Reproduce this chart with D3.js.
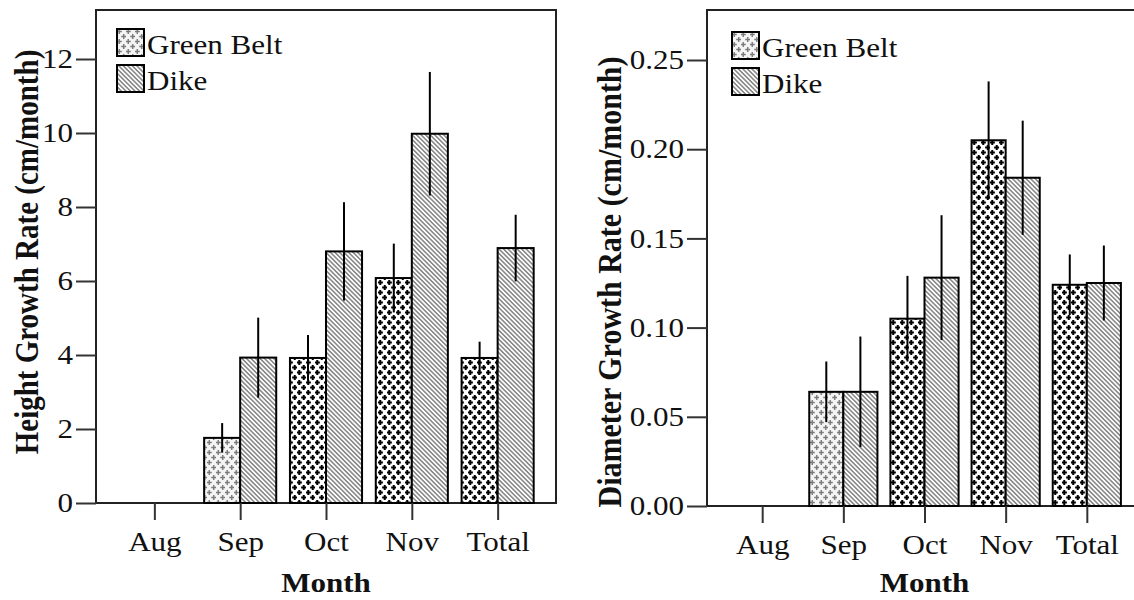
<!DOCTYPE html>
<html>
<head>
<meta charset="utf-8">
<script src="https://cdnjs.cloudflare.com/ajax/libs/d3/7.8.5/d3.min.js"></script>
<style>
  body { margin: 0; background: #fff; }
  text { font-family: "Liberation Serif", "DejaVu Serif", serif; fill: #111; }
</style>
</head>
<body>
<script>
// data
var months = ["Aug", "Sep", "Oct", "Nov", "Total"];
var seriesNames = ["Green Belt", "Dike"];

var heightGreen = [null, 1.76, 3.92, 6.08, 3.92];
var heightGreenErr = [null, 0.40, 0.62, 0.93, 0.44];
var heightDike = [null, 3.93, 6.80, 9.98, 6.89];
var heightDikeErr = [null, 1.08, 1.33, 1.67, 0.90];
var heightTicks = [0, 2, 4, 6, 8, 10, 12];

var diamGreen = [null, 0.064, 0.105, 0.205, 0.124];
var diamGreenErr = [null, 0.017, 0.024, 0.033, 0.017];
var diamDike = [null, 0.064, 0.128, 0.184, 0.125];
var diamDikeErr = [null, 0.031, 0.035, 0.032, 0.021];
var diamTicks = [0, 0.05, 0.10, 0.15, 0.20, 0.25];

var W = 1134, H = 600;
var SX = 1.15; // the picture's text is a bit wider than it is tall
var FS = "27px";

var svg = d3.select("body").append("svg")
    .attr("width", W)
    .attr("height", H);

// fill patterns
var defs = svg.append("defs");

function crossPattern(id, color, bg, sw, arm) {
    var p = defs.append("pattern")
        .attr("id", id)
        .attr("patternUnits", "userSpaceOnUse")
        .attr("width", 9).attr("height", 10);
    p.append("rect").attr("width", 9).attr("height", 10).attr("fill", bg);
    [[2.25, 2.5], [6.75, 7.5]].forEach(function (c) {
        p.append("path")
            .attr("d", "M" + (c[0] - arm) + "," + c[1] + "h" + (2 * arm) + "M" + c[0] + "," + (c[1] - arm) + "v" + (2 * arm))
            .attr("stroke", color)
            .attr("stroke-width", sw);
    });
}
crossPattern("crossDark", "#000", "#fff", 2, 2.6);
crossPattern("crossLight", "#7a7a7a", "#f4f4f4", 1.4, 2.5);

var hatch = defs.append("pattern")
    .attr("id", "hatch")
    .attr("patternUnits", "userSpaceOnUse")
    .attr("width", 3.2).attr("height", 8)
    .attr("patternTransform", "rotate(-45)");
hatch.append("rect").attr("width", 3.2).attr("height", 8).attr("fill", "#fff");
hatch.append("line")
    .attr("x1", 0.8).attr("x2", 0.8).attr("y1", 0).attr("y2", 8)
    .attr("stroke", "#444").attr("stroke-width", 1);

function drawPanel(cfg) {
    var g = svg.append("g");

    var x = d3.scalePoint()
        .domain(months)
        .range([cfg.left, cfg.right])
        .padding(0.68);
    var y = d3.scaleLinear()
        .domain([0, cfg.ymax])
        .range([cfg.bottom, cfg.top]);
    var barW = x.step() * 0.42;

    // frame
    g.append("rect")
        .attr("x", cfg.left).attr("y", cfg.top)
        .attr("width", cfg.right - cfg.left)
        .attr("height", cfg.bottom - cfg.top)
        .attr("fill", "none")
        .attr("stroke", "#222")
        .attr("stroke-width", 2);

    var rows = months.map(function (m, i) {
        return { m: m, i: i };
    });

    // green belt bars
    g.selectAll(".gb")
        .data(rows.filter(function (d) { return cfg.green[d.i] != null; }))
        .enter()
        .append("rect")
        .attr("x", function (d) { return x(d.m) - barW; })
        .attr("y", function (d) { return y(cfg.green[d.i]); })
        .attr("width", barW)
        .attr("height", function (d) { return y(0) - y(cfg.green[d.i]); })
        .attr("fill", function (d) { return d.m == "Sep" ? "url(#crossLight)" : "url(#crossDark)"; })
        .attr("stroke", "#000")
        .attr("stroke-width", 2);

    // dike bars
    g.selectAll(".dk")
        .data(rows.filter(function (d) { return cfg.dike[d.i] != null; }))
        .enter()
        .append("rect")
        .attr("x", function (d) { return x(d.m); })
        .attr("y", function (d) { return y(cfg.dike[d.i]); })
        .attr("width", barW)
        .attr("height", function (d) { return y(0) - y(cfg.dike[d.i]); })
        .attr("fill", "url(#hatch)")
        .attr("stroke", "#000")
        .attr("stroke-width", 2);

    // error bars
    var errs = [];
    rows.forEach(function (d) {
        if (cfg.green[d.i] != null) errs.push({ cx: x(d.m) - barW / 2, v: cfg.green[d.i], e: cfg.greenErr[d.i] });
        if (cfg.dike[d.i] != null) errs.push({ cx: x(d.m) + barW / 2, v: cfg.dike[d.i], e: cfg.dikeErr[d.i] });
    });
    g.selectAll(".err")
        .data(errs)
        .enter()
        .append("line")
        .attr("x1", function (d) { return d.cx; })
        .attr("x2", function (d) { return d.cx; })
        .attr("y1", function (d) { return y(d.v - d.e); })
        .attr("y2", function (d) { return y(d.v + d.e); })
        .attr("stroke", "#000")
        .attr("stroke-width", 2);

    // y axis
    var yAxis = d3.axisLeft(y)
        .tickValues(cfg.ticks)
        .tickSize(20)
        .tickPadding(3)
        .tickFormat(cfg.fmt);
    var ya = g.append("g")
        .attr("transform", "translate(" + cfg.left + ",0)")
        .call(yAxis);
    ya.select(".domain").remove();
    ya.selectAll("line").attr("stroke", "#333").attr("stroke-width", 2);
    ya.selectAll("text")
        .attr("x", -23 / SX)
        .attr("transform", "scale(" + SX + ",1)")
        .style("font-family", "Liberation Serif")
        .style("font-size", FS)
        .attr("fill", "#111");

    // x axis
    var xAxis = d3.axisBottom(x)
        .tickSize(17)
        .tickPadding(12);
    var xa = g.append("g")
        .attr("transform", "translate(0," + cfg.bottom + ")")
        .call(xAxis);
    xa.select(".domain").remove();
    xa.selectAll("line").attr("stroke", "#333").attr("stroke-width", 2);
    xa.selectAll("text")
        .attr("transform", "scale(" + SX + ",1)")
        .style("font-family", "Liberation Serif")
        .style("font-size", FS)
        .attr("fill", "#111");

    // axis titles
    g.append("text")
        .attr("transform", "translate(" + ((cfg.left + cfg.right) / 2) + ",592) scale(" + SX + ",1)")
        .attr("text-anchor", "middle")
        .style("font-weight", "bold")
        .style("font-size", FS)
        .text("Month");

    g.append("text")
        .attr("transform", "translate(" + cfg.yTitleX + "," + cfg.yTitleY + ") scale(" + SX + ",1) rotate(-90)")
        .attr("text-anchor", "middle")
        .style("font-weight", "bold")
        .style("font-size", cfg.yTitleSize)
        .text(cfg.ytitle);

    // legend
    var lg = g.append("g")
        .attr("transform", "translate(" + (cfg.left + cfg.legDx) + "," + cfg.legTop + ")");
    seriesNames.forEach(function (s, i) {
        lg.append("rect")
            .attr("x", 0).attr("y", i * 36)
            .attr("width", 27).attr("height", 27)
            .attr("fill", i == 0 ? "url(#crossLight)" : "url(#hatch)")
            .attr("stroke", "#000")
            .attr("stroke-width", 2);
        lg.append("text")
            .attr("transform", "translate(30," + (i * 36 + 25) + ") scale(" + SX + ",1)")
            .style("font-size", FS)
            .text(s);
    });
}

drawPanel({
    left: 96, right: 556, top: 10, bottom: 503,
    ymax: (503 - 10) / 37,
    ticks: heightTicks, fmt: d3.format("d"),
    green: heightGreen, greenErr: heightGreenErr,
    dike: heightDike, dikeErr: heightDikeErr,
    ytitle: "Height Growth Rate (cm/month)",
    yTitleX: 38, yTitleY: 252, yTitleSize: "29px",
    legDx: 21, legTop: 29
});

drawPanel({
    left: 707, right: 1142, top: 10, bottom: 506,
    ymax: 0.25 * (506 - 10) / (506 - 60),
    ticks: diamTicks, fmt: d3.format(".2f"),
    green: diamGreen, greenErr: diamGreenErr,
    dike: diamDike, dikeErr: diamDikeErr,
    ytitle: "Diameter Growth Rate (cm/month)",
    yTitleX: 621, yTitleY: 282, yTitleSize: "30px",
    legDx: 25, legTop: 32
});
</script>
</body>
</html>
